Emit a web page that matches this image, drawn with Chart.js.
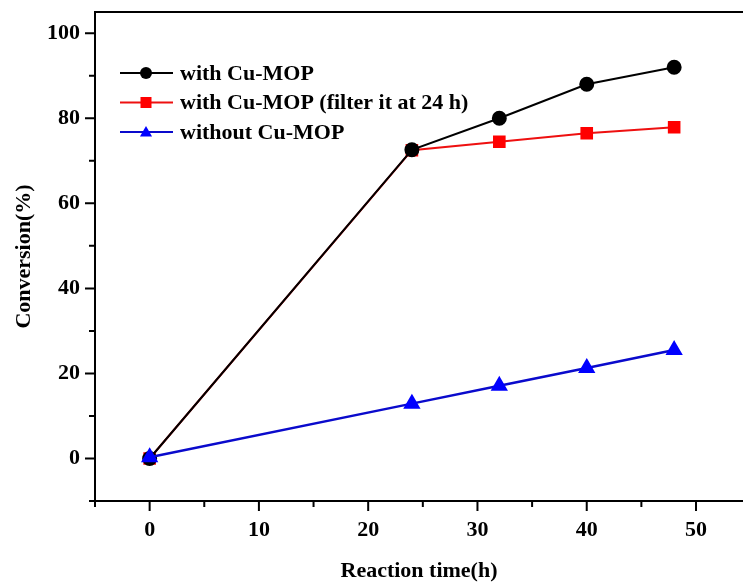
<!DOCTYPE html>
<html>
<head>
<meta charset="utf-8">
<script src="https://cdn.jsdelivr.net/npm/chart.js@4.4.1/dist/chart.umd.min.js"></script>
<style>
  html, body { margin: 0; padding: 0; background: #fff; }
</style>
</head>
<body>
<canvas id="conversionChart" width="743" height="585"></canvas>
<script>
// reaction time (h) and conversion (%) for each run
const reactionTime = [0, 24, 32, 40, 48];
const withCuMop = [0, 72.6, 80.0, 88.0, 92.0];
const withCuMopFiltered = [0, 72.5, 74.5, 76.5, 77.9];
const withoutCuMop = [0.3, 12.9, 17.1, 21.3, 25.5];
const seriesLabels = ['with Cu-MOP', 'with Cu-MOP (filter it at 24 h)', 'without Cu-MOP'];

const FONT = "'Liberation Serif', 'Times New Roman', serif";

const toPoints = (vals) => vals.map((v, i) => ({ x: reactionTime[i], y: v }));

// frame on left/bottom/top plus outward major & minor ticks
const axisFrame = {
  id: 'axisFrame',
  afterDraw(chart) {
    const { ctx, chartArea: a, scales: { x, y } } = chart;
    ctx.save();
    ctx.strokeStyle = '#000';
    ctx.lineWidth = 2;
    ctx.beginPath();
    ctx.moveTo(a.right, a.top);
    ctx.lineTo(a.left, a.top);
    ctx.lineTo(a.left, a.bottom);
    ctx.lineTo(a.right, a.bottom);
    x.ticks.forEach(t => {
      const px = x.getPixelForValue(t.value);
      const len = t.value % 10 === 0 ? 10 : 6;
      ctx.moveTo(px, a.bottom);
      ctx.lineTo(px, a.bottom + len);
    });
    y.ticks.forEach(t => {
      const py = y.getPixelForValue(t.value);
      const len = t.value % 20 === 0 ? 10 : 6;
      ctx.moveTo(a.left, py);
      ctx.lineTo(a.left - len, py);
    });
    ctx.stroke();
    ctx.restore();
  }
};

function marker(ctx, style, cx, cy, r) {
  ctx.beginPath();
  if (style === 'circle') {
    ctx.arc(cx, cy, r, 0, Math.PI * 2);
  } else if (style === 'rect') {
    ctx.rect(cx - r, cy - r, r * 2, r * 2);
  } else {
    ctx.moveTo(cx, cy - r * 1.1);
    ctx.lineTo(cx + r * 1.1, cy + r * 0.8);
    ctx.lineTo(cx - r * 1.1, cy + r * 0.8);
    ctx.closePath();
  }
  ctx.fill();
}

// legend with line + marker samples, in dataset order
const lineLegend = {
  id: 'lineLegend',
  afterDraw(chart) {
    const { ctx } = chart;
    const rows = [73, 102.5, 132];
    ctx.save();
    ctx.font = 'bold 22px ' + FONT;
    ctx.textBaseline = 'middle';
    chart.data.datasets.forEach((ds, i) => {
      const yy = rows[i];
      ctx.strokeStyle = ds.borderColor;
      ctx.fillStyle = ds.pointBackgroundColor;
      ctx.lineWidth = 2;
      ctx.beginPath();
      ctx.moveTo(120, yy);
      ctx.lineTo(173, yy);
      ctx.stroke();
      marker(ctx, ds.pointStyle, 146, yy, ds.pointStyle === 'circle' ? 6 : 5.5);
      ctx.fillStyle = '#000';
      ctx.fillText(ds.label, 180, yy + 1);
    });
    ctx.restore();
  }
};

const tickFont = { family: FONT, size: 22, weight: 'bold' };

new Chart(document.getElementById('conversionChart'), {
  type: 'line',
  data: {
    datasets: [
      {
        label: seriesLabels[0],
        data: toPoints(withCuMop),
        borderColor: '#000000',
        pointBackgroundColor: '#000000',
        pointBorderColor: '#000000',
        pointStyle: 'circle',
        pointRadius: 6.5,
        borderWidth: 2,
        order: 1
      },
      {
        label: seriesLabels[1],
        data: toPoints(withCuMopFiltered),
        borderColor: '#ee1010',
        pointBackgroundColor: '#ff0000',
        pointBorderColor: '#ff0000',
        pointStyle: 'rect',
        pointRadius: 7.5,
        borderWidth: 2,
        order: 2
      },
      {
        label: seriesLabels[2],
        data: toPoints(withoutCuMop),
        borderColor: '#0a0acc',
        pointBackgroundColor: '#0000ff',
        pointBorderColor: '#0000ff',
        pointStyle: 'triangle',
        pointRadius: 7.5,
        borderWidth: 2.5,
        order: 0
      }
    ]
  },
  options: {
    responsive: false,
    animation: false,
    layout: { autoPadding: false, padding: { top: 12, left: 0, right: 0, bottom: 0 } },
    plugins: { legend: { display: false }, tooltip: { enabled: false } },
    scales: {
      x: {
        type: 'linear',
        min: -5,
        max: 54.3,
        grid: { display: false, drawTicks: false },
        border: { display: false },
        afterBuildTicks: (s) => { s.ticks = s.ticks.filter(t => t.value % 5 === 0); },
        afterFit: (s) => { s.height = 84; s.paddingLeft = 0; s.paddingRight = 0; },
        ticks: {
          stepSize: 5,
          includeBounds: false,
          padding: 16,
          autoSkip: false,
          maxRotation: 0,
          color: '#000',
          font: tickFont,
          callback: (v) => (v % 10 === 0 ? v : '')
        },
        title: {
          display: true,
          text: 'Reaction time(h)',
          color: '#000',
          padding: { top: 0, bottom: 0 },
          font: tickFont
        }
      },
      y: {
        min: -10,
        max: 105,
        grid: { display: false, drawTicks: false },
        border: { display: false },
        afterBuildTicks: (s) => { s.ticks = s.ticks.filter(t => t.value % 10 === 0); },
        afterFit: (s) => { s.width = 95; s.paddingTop = 0; s.paddingBottom = 0; },
        ticks: {
          stepSize: 10,
          includeBounds: false,
          padding: 15,
          autoSkip: false,
          color: '#000',
          font: tickFont,
          callback: (v) => (v % 20 === 0 && v >= 0 ? v : '')
        },
        title: {
          display: true,
          text: 'Conversion(%)',
          color: '#000',
          padding: { top: 11, bottom: 0 },
          font: tickFont
        }
      }
    }
  },
  plugins: [axisFrame, lineLegend]
});
</script>
</body>
</html>
